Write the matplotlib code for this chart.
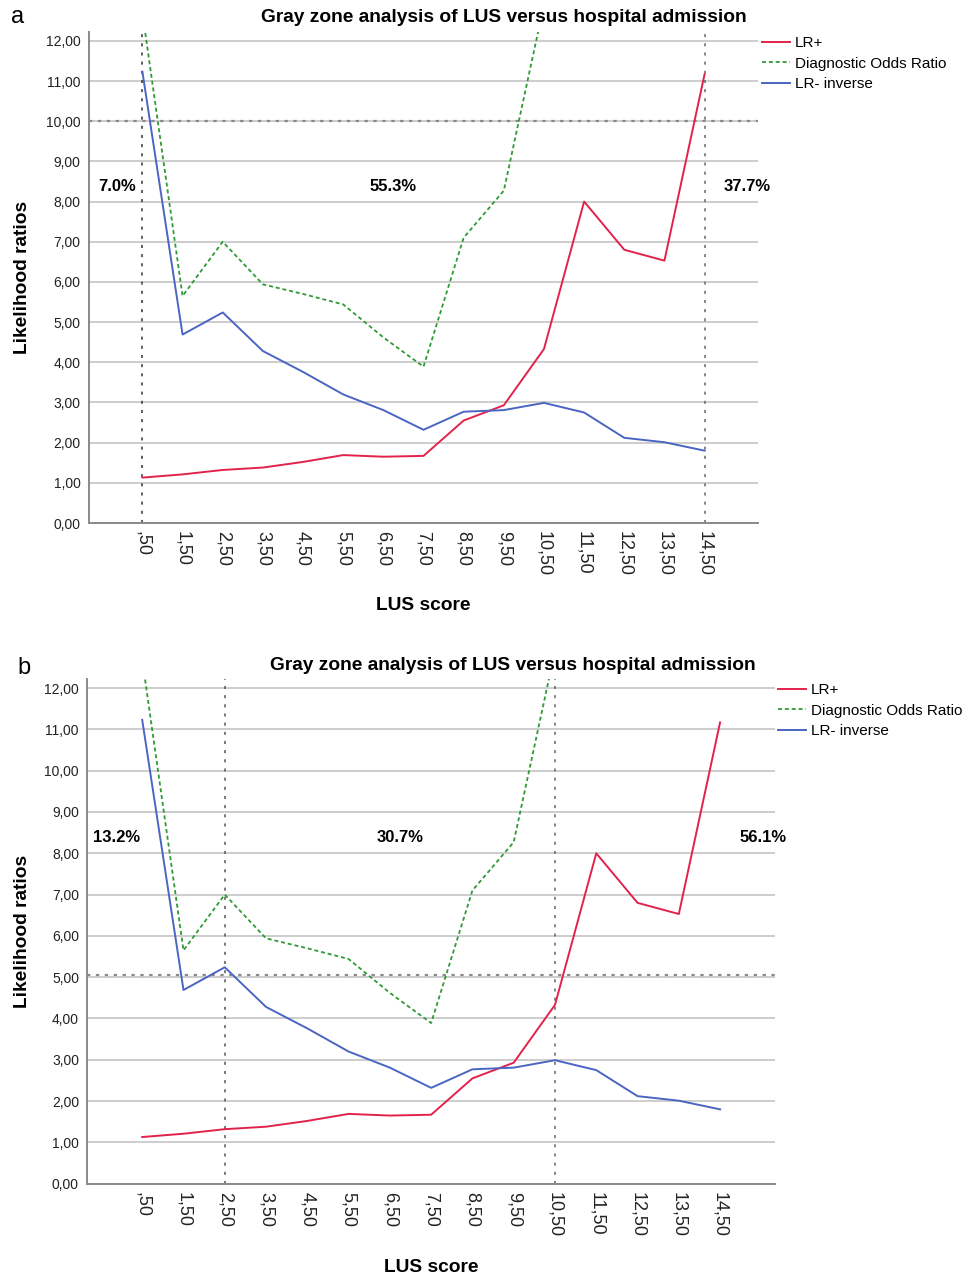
import numpy as np
import matplotlib
matplotlib.use("Agg")
import matplotlib.pyplot as plt

plt.rcParams['font.family'] = ['Liberation Sans', 'DejaVu Sans']

W, H = 973, 1276

# LUS score cut-offs and the three series (same in both panels)
lus_labels = [',50', '1,50', '2,50', '3,50', '4,50', '5,50', '6,50', '7,50',
              '8,50', '9,50', '10,50', '11,50', '12,50', '13,50', '14,50']
lr_pos = [1.13, 1.21, 1.32, 1.38, 1.52, 1.69, 1.65, 1.67, 2.55, 2.93, 4.33,
          8.00, 6.80, 6.53, 11.17]
dor = [12.7, 5.65, 7.00, 5.94, 5.70, 5.44, 4.62, 3.89, 7.10, 8.27, 12.9,
       22.0, 14.4, 13.1, 20.1]
lr_neg_inv = [11.23, 4.69, 5.24, 4.28, 3.76, 3.20, 2.81, 2.32, 2.77, 2.81, 2.99,
              2.75, 2.12, 2.01, 1.80]

# gray zone set-up per panel
panel_letters = ['a', 'b']
cut_lines = [[',50', '14,50'], ['2,50', '10,50']]
threshold = [10.0, 5.05]
zone_pct = [['7.0%', '55.3%', '37.7%'], ['13.2%', '30.7%', '56.1%']]

title = 'Gray zone analysis of LUS versus hospital admission'
RED = '#e3224b'
GREEN = '#2f9a35'
BLUE = '#4a65c2'


def fx(x):
    return x / W


def fy(y):
    return 1 - y / H


fig = plt.figure(figsize=(W / 100, H / 100), dpi=100)

# pixel boxes: left, right, top, bottom
boxes = [(89, 758, 32, 523), (87.3, 775, 679, 1183.7)]
title_pos = [(504, 18), (513, 665)]
letter_pos = [(18, 17), (24, 668)]
xlabel_y = [605, 1267]
legend_pos = [(762, 36), (778, 683)]
vline_cols = [['#333333', '#666666'], ['#555555', '#666666']]

x = np.arange(len(lus_labels))

for i in range(2):
    l, r, t, b = boxes[i]
    ax = fig.add_axes([fx(l), fy(b), (r - l) / W, (b - t) / H])
    ax.set_xlim(-1.33, 14 + 1.33)
    ax.set_ylim(0, 12.22)
    for s in ['top', 'right']:
        ax.spines[s].set_visible(False)
    for s in ['left', 'bottom']:
        ax.spines[s].set_color('#8a8a8a')
        ax.spines[s].set_linewidth(1.4)
    ax.set_yticks(range(0, 13))
    ax.set_yticklabels(['%d,00' % v for v in range(0, 13)], fontsize=10, color='#222222')
    ax.set_xticks(x)
    ax.set_xticklabels(lus_labels, rotation=-90, fontsize=13, color='#222222')
    ax.tick_params(length=0, pad=6)
    ax.grid(axis='y', color='#cdcdcd', linewidth=1.4, zorder=0)
    ax.set_axisbelow(True)

    ax.axhline(threshold[i], color='#8a8a8a', linewidth=1.6, linestyle=(0, (1.5, 2.5)), zorder=1)
    for lab, col in zip(cut_lines[i], vline_cols[i]):
        ax.axvline(lus_labels.index(lab), color=col, linewidth=1.1, linestyle=(0, (2, 4)), zorder=1)

    ax.plot(x, lr_pos, color=RED, linewidth=1.4, label='LR+', zorder=3)
    ax.plot(x, dor, color=GREEN, linewidth=1.3, linestyle=(0, (2.2, 1.6)),
            label='Diagnostic Odds Ratio', zorder=3)
    ax.plot(x, lr_neg_inv, color=BLUE, linewidth=1.4, label='LR- inverse', zorder=3)

    for xp, txt in zip([-0.63, 6.25, 15.05], zone_pct[i]):
        ax.text(xp, 8.38, txt, ha='center', va='center', fontsize=12,
                fontweight='bold', clip_on=False)

    fig.text(fx(title_pos[i][0]), fy(title_pos[i][1]), title, ha='center', va='center',
             fontsize=13.8, fontweight='bold')
    fig.text(fx(letter_pos[i][0]), fy(letter_pos[i][1]), panel_letters[i], ha='center',
             va='center', fontsize=17)
    fig.text(fx((l + r) / 2), fy(xlabel_y[i]), 'LUS score', ha='center', va='center',
             fontsize=13.8, fontweight='bold')
    fig.text(fx(23), fy((t + b) / 2), 'Likelihood ratios', ha='center', va='center',
             rotation=90, fontsize=13.8, fontweight='bold')

    fig.legend(*ax.get_legend_handles_labels(), loc='upper left',
               bbox_to_anchor=(fx(legend_pos[i][0]), fy(legend_pos[i][1])),
               frameon=False, fontsize=11, handlelength=1.8, handletextpad=0.35,
               labelspacing=0.44, borderpad=0, borderaxespad=0)

fig.savefig('out.png', dpi=100)
